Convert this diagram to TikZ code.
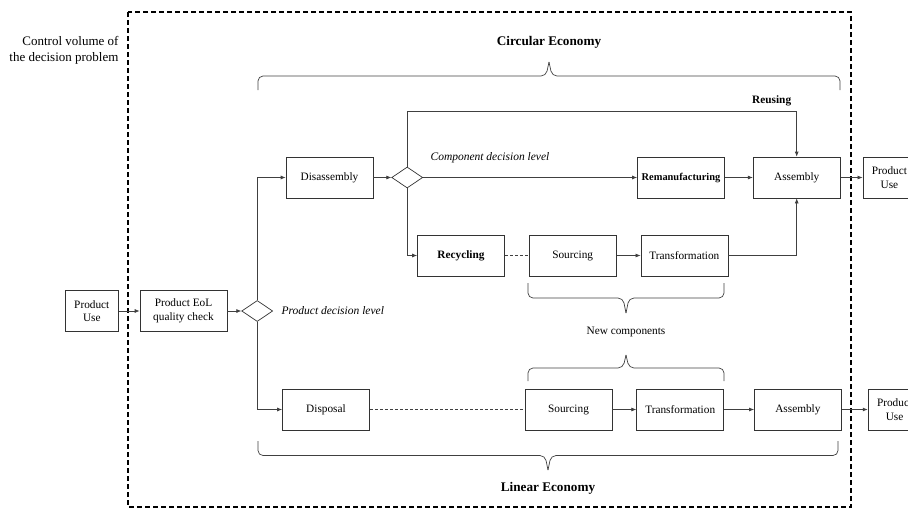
\documentclass[tikz,border=0pt]{standalone}
\usepackage{fontspec}
\setmainfont{Liberation Serif}
\usepackage{tikz}
\usetikzlibrary{arrows.meta,positioning,shapes.geometric}

\newcommand{\ebrace}[4]{%
  \pgfmathsetmacro\bmid{(#1+#2)/2}%
  \draw[bracestyle] (#1,#3) -- (#1,#3+#4) -- (\bmid-3,#3+#4) -- (\bmid,#3+2*#4);
  \draw[bracestyle] (#2,#3) -- (#2,#3+#4) -- (\bmid+3,#3+#4) -- (\bmid,#3+2*#4);}

\begin{document}
\begin{tikzpicture}[
  x=1pt, y=-1pt,
  box/.style={draw=black!80, line width=0.7pt, minimum width=87pt, minimum height=41pt, inner sep=1pt, align=center, font=\fontsize{11.3}{13.6}\selectfont},
  boldbox/.style={box, font=\fontsize{11.3}{13.6}\selectfont\bfseries},
  usebox/.style={box, minimum width=53pt},
  decision/.style={draw=black!80, line width=0.7pt, diamond, minimum width=31pt, minimum height=21pt, inner sep=0pt},
  arrow/.style={-{Latex[length=5pt, width=4pt]}, line width=0.7pt, draw=black!75},
  dashline/.style={dashed, dash pattern=on 3pt off 2pt, line width=0.6pt, draw=black!75},
  bracestyle/.style={line width=0.7pt, draw=black!75, rounded corners=5pt},
  lbl/.style={font=\fontsize{11.3}{13.6}\selectfont},
  title/.style={font=\fontsize{13.2}{15.8}\selectfont\bfseries},
]
\useasboundingbox (0,0) rectangle (908,509);

\draw[line width=1.6pt, dash pattern=on 5pt off 3pt] (128,12) rectangle (851,507);
\node[align=right, anchor=east, font=\fontsize{13}{15.8}\selectfont] (cv) at (122,50) {Control volume of\\the decision problem};

\node[box] (eol) at (183.5,311) {Product EoL\\quality check};
\node[usebox, left=21pt of eol] (useL) {Product\\Use};
\node[decision, right=14pt of eol] (pdec) {};
\node[lbl, right=5pt of pdec, font=\fontsize{11.5}{14}\selectfont\itshape] (pdecl) {Product decision level};

\node[box] (dis) at (329.5,177.5) {Disassembly};
\node[decision, right=18pt of dis] (cdec) {};
\node[lbl, above right=11pt and 4pt of cdec.east, font=\fontsize{11.5}{14}\selectfont\itshape] (cdecl) {Component decision level};
\node[boldbox, font=\fontsize{10.4}{12.5}\selectfont\bfseries] (reman) at (681,177.5) {Remanufacturing};
\node[box, right=28pt of reman] (asmT) {Assembly};
\node[usebox, right=22pt of asmT] (useT) {Product\\Use};

\node[boldbox] (rec) at (461,255.5) {Recycling};
\node[box, right=24pt of rec] (srcT) {Sourcing};
\node[box, right=24pt of srcT] (trfT) {Transformation};

\node[box] (disp) at (326,409.5) {Disposal};
\node[box] (srcB) at (568.5,409.5) {Sourcing};
\node[box, right=24pt of srcB] (trfB) {Transformation};
\node[box, right=30pt of trfB] (asmB) {Assembly};
\node[usebox, right=26pt of asmB] (useB) {Product\\Use};

\path (asmT.north) ++(0,-45) coordinate (reuse);
\node[lbl, font=\fontsize{11.3}{13.6}\selectfont\bfseries, above left=2pt and 2pt of reuse] (reusel) {Reusing};

\draw[arrow] (useL) -- (eol);
\draw[arrow] (eol) -- (pdec);
\draw[arrow] (pdec.north) |- (dis);
\draw[arrow] (pdec.south) |- (disp);
\draw[arrow] (dis) -- (cdec);
\draw[arrow] (cdec) -- (reman);
\draw[arrow] (cdec.south) |- (rec);
\draw[arrow] (cdec.north) |- (reuse) -- (asmT.north);
\draw[arrow] (reman) -- (asmT);
\draw[arrow] (asmT) -- (useT);
\draw[dashline] (rec) -- (srcT);
\draw[arrow] (srcT) -- (trfT);
\draw[arrow] (trfT) -| (asmT);
\draw[dashline] (disp) -- (srcB);
\draw[arrow] (srcB) -- (trfB);
\draw[arrow] (trfB) -- (asmB);
\draw[arrow] (asmB) -- (useB);

\ebrace{258}{840}{90}{-14}
\node[title] (ce) at (549,42) {Circular Economy};
\ebrace{528}{724}{283}{15}
\node[lbl] (newc) at (626,332) {New components};
\ebrace{528}{724}{381}{-13}
\ebrace{258}{838}{441}{14.5}
\node[title] (le) at (548,488) {Linear Economy};

\end{tikzpicture}
\end{document}
